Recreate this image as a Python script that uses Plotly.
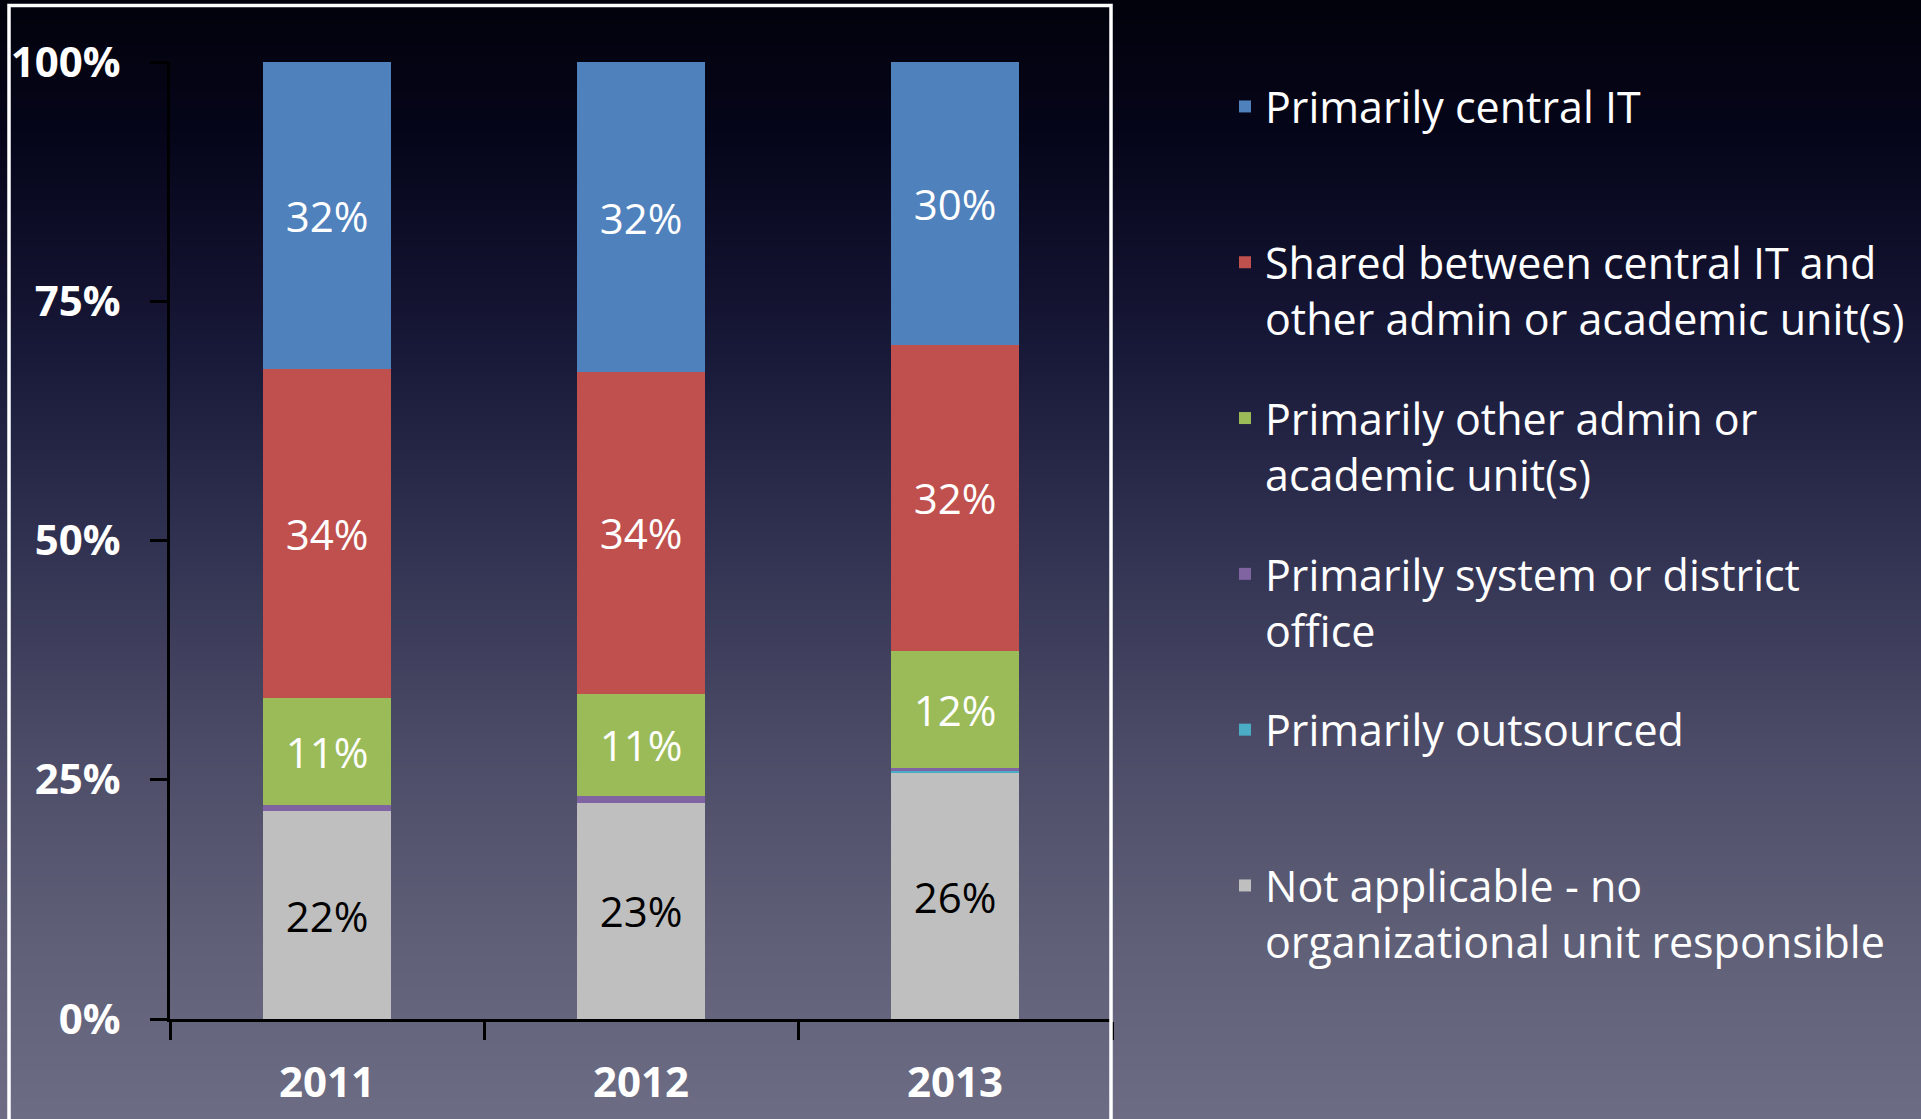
import zlib, struct, base64
import plotly.graph_objects as go

# ---------------- data ----------------
years = ["2011", "2012", "2013"]
series_names = [
    "Not applicable - no<br>organizational unit responsible",
    "Primarily outsourced<br>\u00a0",
    "Primarily system or district<br>office",
    "Primarily other admin or<br>academic unit(s)",
    "Shared between central IT and<br>other admin or academic unit(s)",
    "Primarily central IT<br>\u00a0",
]
not_applicable = [21.7, 22.6, 25.7]
outsourced = [0.0, 0.0, 0.3]
system_office = [0.7, 0.7, 0.2]
other_units = [11.1, 10.7, 12.3]
shared = [34.4, 33.6, 31.9]
central_it = [32.1, 32.4, 29.6]
series_values = [not_applicable, outsourced, system_office, other_units, shared, central_it]
series_colors = ["#BFBFBF", "#4BACC6", "#8064A2", "#9BBB59", "#C0504D", "#4F81BD"]
label_colors = ["black", None, None, "white", "white", "white"]
legend_ranks = [6, 5, 4, 3, 2, 1]
y_tick_vals = [0, 25, 50, 75, 100]
y_tick_text = ["0%", "25%", "50%", "75%", "100%"]

# ---------------- layout geometry (pixels) ----------------
W, H = 1921, 1119
PL, PR, PT, PB = 170, 1112, 62, 1019
pw, ph = PR - PL, PB - PT

def px_x(p):
    return (p - PL) / pw

def px_y(p):
    return (PB - p) / ph

# background gradient image
def gradient_png(stops, height, width=4):
    rows = []
    for y in range(height):
        for i in range(len(stops) - 1):
            y0, c0 = stops[i]
            y1, c1 = stops[i + 1]
            if y0 <= y <= y1:
                t = (y - y0) / (y1 - y0)
                c = [round(c0[k] + (c1[k] - c0[k]) * t) for k in range(3)]
                break
        rows.append(b"\x00" + bytes(c) * width)
    raw = b"".join(rows)

    def chunk(t, d):
        return struct.pack(">I", len(d)) + t + d + struct.pack(">I", zlib.crc32(t + d) & 0xFFFFFFFF)

    ihdr = struct.pack(">IIBBBBB", width, height, 8, 2, 0, 0, 0)
    png = b"\x89PNG\r\n\x1a\n" + chunk(b"IHDR", ihdr) + chunk(b"IDAT", zlib.compress(raw)) + chunk(b"IEND", b"")
    return "data:image/png;base64," + base64.b64encode(png).decode()

bg_stops = [
    (0, (2, 2, 12)),
    (150, (6, 6, 28)),
    (350, (24, 24, 56)),
    (550, (50, 50, 82)),
    (750, (76, 76, 104)),
    (950, (96, 96, 120)),
    (1119, (108, 108, 132)),
]

fig = go.Figure()
for name, vals, col, lc, rk in zip(series_names, series_values, series_colors, label_colors, legend_ranks):
    fig.add_trace(go.Bar(
        x=years, y=vals, name=name, legendgroup=name, legendrank=rk,
        marker=dict(color=col, line=dict(width=0)),
        texttemplate="%{y:.0f}%" if lc else "",
        textposition="inside" if lc else "none",
        insidetextanchor="middle",
        textangle=0,
        textfont=dict(family="Open Sans", size=42, color=lc or "white"),
        hoverinfo="skip",
    ))

fig.update_layout(
    width=W, height=H,
    margin=dict(l=PL, r=W - PR, t=PT, b=H - PB, autoexpand=False),
    barmode="stack",
    bargap=0.595,
    paper_bgcolor="#1a1a30",
    plot_bgcolor="rgba(0,0,0,0)",
    template="none",
    font=dict(family="Open Sans", color="white"),
    showlegend=True,
    legend=dict(
        x=px_x(1225), y=px_y(72), xanchor="left", yanchor="top",
        traceorder="grouped", tracegroupgap=41, valign="top",
        font=dict(family="Open Sans", size=43, color="white"),
        bgcolor="rgba(0,0,0,0)", borderwidth=0,
    ),
    xaxis=dict(
        type="category", range=[-0.5, 2.5],
        showline=True, linecolor="black", linewidth=3,
        ticks="outside", tickson="boundaries", ticklen=18, tickwidth=3, tickcolor="black",
        tickfont=dict(family="Open Sans", size=42, color="white", weight="bold"),
        ticklabelstandoff=25,
        showgrid=False, zeroline=False,
    ),
    yaxis=dict(
        range=[0, 100],
        tickvals=y_tick_vals, ticktext=y_tick_text,
        showline=True, linecolor="black", linewidth=3,
        ticks="outside", ticklen=17, tickwidth=3, tickcolor="black",
        tickfont=dict(family="Open Sans", size=42, color="white", weight="bold"),
        ticklabelstandoff=21,
        showgrid=False, zeroline=False,
    ),
    images=[dict(
        source=gradient_png(bg_stops, H), xref="paper", yref="paper",
        x=px_x(0), y=px_y(0), sizex=W / pw, sizey=H / ph,
        xanchor="left", yanchor="top", sizing="stretch", layer="below",
    )],
    shapes=[dict(
        type="rect", xref="paper", yref="paper",
        x0=px_x(9), x1=px_x(1111), y0=px_y(1130), y1=px_y(5.5),
        line=dict(color="white", width=3.5), fillcolor="rgba(0,0,0,0)", layer="above",
    )],
)

fig.write_html(
    "out.html",
    config={"displayModeBar": False},
    post_script="document.body.style.margin='0';document.body.style.overflow='hidden';",
)
